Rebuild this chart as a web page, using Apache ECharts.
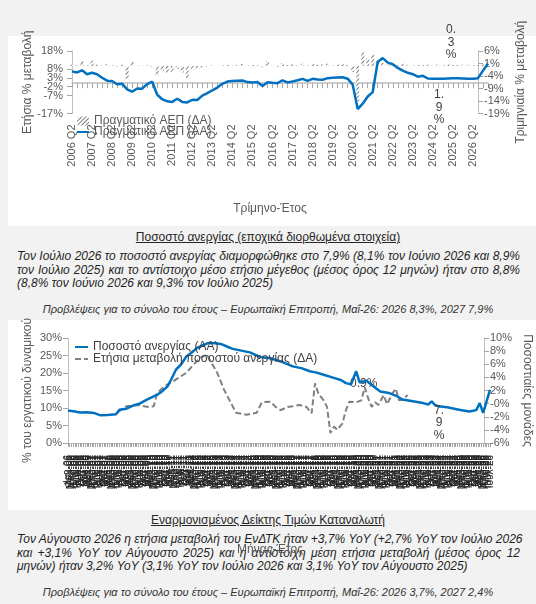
<!DOCTYPE html>
<html lang="el">
<head>
<meta charset="utf-8">
<title>ΑΕΠ και ανεργία</title>
<script src="https://cdn.jsdelivr.net/npm/echarts@6.0.0/dist/echarts.min.js"></script>
<style>
html, body { margin: 0; padding: 0; }
body {
  width: 536px; height: 604px; position: relative; overflow: hidden;
  background: #f2f2f2; color: #1f1f1f;
  font-family: "Liberation Sans", Arial, sans-serif;
}
.box { position: absolute; left: 8px; width: 528px; background: #fff; }
#box1 { top: 36px; height: 190px; }
#box2 { top: 320px; height: 190px; }
.head {
  position: absolute; left: 0; width: 536px; text-align: center;
  font-size: 12px; line-height: 14px; text-decoration: underline; color: #262626;
}
.para {
  position: absolute; left: 17px; width: 503px;
  font-size: 12px; line-height: 13.5px; font-style: italic; color: #1f1f1f;
}
.para div { white-space: nowrap; text-align: justify; text-align-last: justify; }
.para div.last { text-align-last: left; }
.fc {
  position: absolute; left: 0; width: 536px; text-align: center;
  font-size: 11px; line-height: 13px; font-style: italic; color: #333;
}
#chart { position: absolute; left: 0; top: 0; width: 536px; height: 604px; }
</style>
</head>
<body>
<div class="box" id="box1"></div>
<div class="head" style="top:230px">Ποσοστό ανεργίας (εποχικά διορθωμένα στοιχεία)</div>
<div class="para" style="top:250px">
  <div>Τον Ιούλιο 2026 το ποσοστό ανεργίας διαμορφώθηκε στο 7,9% (8,1% τον Ιούνιο 2026 και 8,9%</div>
  <div>τον Ιούλιο 2025) και το αντίστοιχο μέσο ετήσιο μέγεθος (μέσος όρος 12 μηνών) ήταν στο 8,8%</div>
  <div class="last">(8,8% τον Ιούνιο 2026 και 9,3% τον Ιούλιο 2025)</div>
</div>
<div class="fc" style="top:303px">Προβλέψεις για το σύνολο του έτους – Ευρωπαϊκή Επιτροπή, Μαΐ-26: 2026 8,3%, 2027 7,9%</div>
<div class="box" id="box2"></div>
<div class="head" style="top:513px">Εναρμονισμένος Δείκτης Τιμών Καταναλωτή</div>
<div class="para" style="top:533px">
  <div>Τον Αύγουστο 2026 η ετήσια μεταβολή του ΕνΔΤΚ ήταν +3,7% YoY (+2,7% YoY τον Ιούλιο 2026</div>
  <div>και +3,1% YoY τον Αύγουστο 2025) και η αντίστοιχη μέση ετήσια μεταβολή (μέσος όρος 12</div>
  <div class="last">μηνών) ήταν 3,2% YoY (3,1% YoY τον Ιούλιο 2026 και 3,1% YoY τον Αύγουστο 2025)</div>
</div>
<div class="fc" style="top:586px">Προβλέψεις για το σύνολο του έτους – Ευρωπαϊκή Επιτροπή, Μαΐ-26: 2026 3,7%, 2027 2,4%</div>
<div id="chart"></div>

<script>
// ---- ΑΕΠ (τριμηνιαία στοιχεία) ----
const quarterYears = [2006, 2027];      // 2006 Q2 ... 2027 Q1
const quarters = [];
for (let y = quarterYears[0]; y <= quarterYears[1]; y++) {
  for (let q = 1; q <= 4; q++) {
    if ((y === quarterYears[0] && q < 2) || (y === quarterYears[1] && q > 1)) continue;
    quarters.push(y + ' Q' + q);
  }
}

// Πραγματικό ΑΕΠ, τριμηνιαία % μεταβολή (ΔΑ)
const gdpQoq = [
  0.6, 0.4, 1.9, 0.3, 2.2, 0.5, 0.2, 0.8, 0.3, -0.2, 0.5, -5.3, 1.6, 0.2, 0.1, 0.2,
  -0.5, -3.7, -2.0, -2.7, -2.5, -1.2, -2.6, -4.8, -1.6, -1.2, -0.8, -0.5, 0.3, 0.2, 0.3, 0.5,
  0.1, 0.3, 0.8, 0.2, 0.4, 0.2, -0.6, 2.0, 0.4, -0.3, 1.2, 0.3, 0.6, 0.4, 0.9, 0.2,
  0.8, 0.5, 0.6, 0.9, 0.3, 0.7, 0.6, 0.4, -2.4, -14.0, 5.6, 3.0, 4.5, 2.0, 1.2, 0.8,
  1.0, 0.3, 0.9, 0.5, 0.4, 0.6, 0.3, 0.5, 0.2, 0.6, 0.4, 0.8, 0.3, 0.4, 0.5, 0.6,
  0.4, 0.5, 0.6, 0.3
];
// Πραγματικό ΑΕΠ, ετήσια % μεταβολή (ΑΑ)
const gdpYoy = [
  6.6, 6.0, 7.2, 5.0, 5.8, 5.0, 3.0, 1.4, 1.2, -0.6, -0.3, -3.5, -4.8, -3.0, -3.1, -0.5,
  0.8, -6.5, -9.0, -10.2, -10.5, -8.7, -10.5, -10.8, -9.3, -9.4, -7.0, -5.6, -4.0, -2.5, -0.4, 0.9,
  1.2, 1.4, 1.5, 0.6, 0.4, 0.6, -1.6, 0.5, 0.2, 0.0, 1.6, 0.4, 0.9, 1.6, 2.4, 1.3,
  2.4, 2.0, 1.9, 2.8, 3.0, 3.2, 3.3, 2.5, -0.8, -14.5, -11.5, -7.5, -5.0, 12.0, 14.0, 11.5,
  10.6, 8.5, 7.0, 5.8, 5.0, 3.6, 4.1, 2.6, 2.4, 2.5, 2.5, 2.6, 2.7, 2.7, 2.6, 2.5,
  2.5, 2.8, 7.0, 11.0
];
const gdpYoyNote = '1.9%';
const gdpLeftTicks = [-17, -12, -7, -2, 3, 8, 13, 18];
const gdpRightTicks = [-19, -14, -9, -4, 1, 6];

// ---- Ανεργία (μηνιαία στοιχεία) ----
const monthNames = ['Ιαν', 'Φεβ', 'Μαρ', 'Απρ', 'Μαϊ', 'Ιουν', 'Ιουλ', 'Αυγ', 'Σεπ', 'Οκτ', 'Νοε', 'Δεκ'];
const months = [];
for (let y = 2006; y <= 2026; y++) {
  for (let m = 0; m < 12; m++) {
    if (y === 2026 && m > 6) break;
    months.push(monthNames[m] + '-' + String(y).slice(2));
  }
}
// [δείκτης μήνα, %] — Ποσοστό ανεργίας (ΑΑ)
const unempRate = [
  [0, 9.3], [4, 9.0], [7, 8.7], [11, 8.8], [15, 8.6], [19, 7.9], [23, 8.0], [28, 8.2],
  [30, 9.5], [34, 9.8], [38, 10.7], [42, 11.3], [46, 12.4], [52, 13.8], [55, 14.8], [58, 16.2],
  [60, 18.0], [63, 21.0], [66, 22.5], [69, 24.7], [72, 25.8], [75, 27.1], [79, 28.0], [82, 28.6],
  [86, 28.5], [89, 28.3], [93, 27.5], [96, 26.9], [101, 26.4], [106, 25.9], [112, 24.6], [118, 24.2],
  [124, 23.3], [131, 21.9], [136, 21.4], [141, 20.5], [145, 20.1], [149, 19.5], [155, 18.6], [159, 18.0],
  [162, 17.1], [165, 16.8], [168, 20.5], [170, 17.3], [174, 17.8], [178, 16.2], [182, 14.7], [187, 14.3],
  [192, 13.3], [195, 12.4], [201, 11.9], [207, 11.4], [210, 11.0], [212, 11.9], [214, 10.8], [216, 10.5],
  [221, 10.2], [228, 9.5], [234, 9.0], [238, 9.4], [240, 11.4], [242, 8.6], [246, 15.2]
];
// [δείκτης μήνα, π.μ.] — Ετήσια μεταβολή ποσοστού ανεργίας (ΔΑ)
const unempChange = [
  [29, -1.3], [34, -0.4], [40, -0.2], [47, -0.5], [50, -0.4], [52, 1.6], [56, 2.6], [60, 3.2],
  [63, 3.7], [69, 4.7], [73, 5.9], [77, 7.0], [81, 7.5], [83, 6.5], [87, 4.7], [91, 2.1],
  [95, 0.1], [98, -1.4], [104, -1.7], [110, -1.4], [113, 0.2], [118, 0.3], [121, -0.5], [124, -1.0],
  [128, -0.5], [131, -0.4], [135, -0.2], [139, -0.5], [142, -1.5], [144, 3.1], [146, 1.5], [149, 0.5],
  [151, -0.5], [153, -4.5], [155, -3.5], [157, -4.0], [160, -3.0], [162, -1.0], [164, 0.3], [168, 0.2],
  [171, 0.5], [173, 2.5], [175, 0.8], [177, -0.5], [179, 0.2], [181, -0.2], [184, 1.3], [186, -0.1],
  [189, 1.5], [191, 2.3], [193, 0.5], [195, 0.6], [198, 1.3]
];
const unempRateNote = '7.9%';
const unempChangeNote = '0.9%';

const font = '"Liberation Sans", Arial, sans-serif';
const axisGray = '#bfbfbf';
const tickGray = '#a6a6a6';
const labelGray = '#595959';

// "0.3%" -> "0.\n3\n%" (στενή ετικέτα όπως στο πρωτότυπο)
function stacked(txt) {
  return txt.replace('.', '.\n').replace('%', '\n%');
}

const chart = echarts.init(document.getElementById('chart'));

const baseY = {
  splitLine: { show: false },
  axisLine: { show: true, lineStyle: { color: axisGray } },
  axisTick: { show: true, length: 5, lineStyle: { color: tickGray } },
  nameLocation: 'middle',
  nameMoveOverlap: false,
  nameTextStyle: { fontSize: 12, color: labelGray, fontFamily: font }
};
// γραμμή υπομνήματος χωρίς σύμβολο
const noSymbol = { opacity: 0 };

const option = {
  animation: false,
  textStyle: { fontFamily: font },
  grid: [
    { left: 72, top: 51, width: 416, height: 62.5, outerBoundsMode: 'none' },
    { left: 68, top: 338, width: 422, height: 105, outerBoundsMode: 'none' }
  ],
  legend: [
    {
      orient: 'vertical', left: 71, top: 110, itemWidth: 12, itemHeight: 9, itemGap: -1,
      textStyle: { fontSize: 12, color: labelGray, lineHeight: 12 },
      data: ['Πραγματικό ΑΕΠ (ΔΑ)', { name: 'Πραγματικό ΑΕΠ (ΑΑ)', itemStyle: noSymbol }]
    },
    {
      orient: 'vertical', left: 69, top: 336, itemWidth: 13, itemHeight: 8, itemGap: 0,
      textStyle: { fontSize: 12, color: '#404040', lineHeight: 11 },
      data: [
        { name: 'Ποσοστό ανεργίας (ΑΑ)', itemStyle: noSymbol },
        { name: 'Ετήσια μεταβολή ποσοστού ανεργίας (ΔΑ)', itemStyle: noSymbol }
      ]
    }
  ],
  xAxis: [
    {
      type: 'category', gridIndex: 0, data: quarters, boundaryGap: false,
      axisLine: { onZero: true, onZeroAxisIndex: 0, lineStyle: { color: axisGray, width: 1.5 } },
      axisTick: { interval: 0, length: 5, lineStyle: { color: tickGray } },
      axisLabel: { interval: 3, rotate: 90, margin: 11, fontSize: 11, color: labelGray },
      name: 'Τρίμηνο-Έτος', nameLocation: 'middle', nameGap: 89, nameMoveOverlap: false,
      nameTextStyle: { fontSize: 12, color: labelGray, padding: [0, 20, 0, 0] }
    },
    {
      type: 'category', gridIndex: 1, data: months, boundaryGap: false,
      axisLine: { lineStyle: { color: axisGray } },
      axisTick: { interval: 0, length: 4, lineStyle: { color: tickGray } },
      axisLabel: { interval: 0, rotate: 90, margin: 12, fontSize: 10, color: '#262626' },
      name: 'Μήνας-Έτος', nameLocation: 'middle', nameGap: 101, nameMoveOverlap: false,
      nameTextStyle: { fontSize: 12, color: labelGray, padding: [0, 18, 0, 0] }
    }
  ],
  yAxis: [
    Object.assign({}, baseY, {
      type: 'value', gridIndex: 0, position: 'left', min: -17, max: 18,
      axisLabel: {
        customValues: gdpLeftTicks, formatter: '{value}%', fontSize: 11, color: labelGray, margin: 9,
        showMinLabel: true, showMaxLabel: true
      },
      axisTick: { show: true, length: 5, customValues: gdpLeftTicks, lineStyle: { color: tickGray } },
      name: 'Ετήσια % μεταβολή', nameRotate: 90, nameGap: 38
    }),
    Object.assign({}, baseY, {
      type: 'value', gridIndex: 0, position: 'right', offset: -10, min: -19, max: 6,
      axisLabel: {
        customValues: gdpRightTicks, formatter: '{value}%', fontSize: 11, color: labelGray, margin: 6,
        showMinLabel: true, showMaxLabel: true
      },
      axisTick: { show: true, length: 5, customValues: gdpRightTicks, lineStyle: { color: tickGray } },
      name: 'Τριμηνιαία % μεταβολή', nameRotate: 90, nameGap: 37
    }),
    Object.assign({}, baseY, {
      type: 'value', gridIndex: 1, position: 'left', min: 0, max: 30, interval: 5,
      axisLabel: { formatter: '{value}%', fontSize: 11, color: labelGray, margin: 6 },
      name: '% του εργατικού δυναμικού', nameRotate: 90, nameGap: 34
    }),
    Object.assign({}, baseY, {
      type: 'value', gridIndex: 1, position: 'right', offset: -6, min: -6, max: 10, interval: 2,
      axisLabel: {
        fontSize: 11, color: labelGray, margin: 6,
        formatter: v => (v === 0 ? '-0' : v) + '%'
      },
      name: 'Ποσοστιαίες μονάδες', nameRotate: -90, nameGap: 37
    })
  ],
  series: [
    {
      name: 'Πραγματικό ΑΕΠ (ΔΑ)', type: 'bar', xAxisIndex: 0, yAxisIndex: 1,
      barWidth: 3,
      itemStyle: {
        color: '#ffffff',
        decal: {
          symbol: 'rect', symbolSize: 1, color: '#7f7f7f',
          dashArrayX: [1, 0], dashArrayY: [1, 2], rotation: -Math.PI / 4
        }
      },
      data: gdpQoq.map((v, i) => i === gdpQoq.length - 1 ? {
        value: v,
        label: {
          show: true, position: 'inside', offset: [-37, -23],
          fontSize: 12, lineHeight: 12.5, color: '#404040', align: 'center',
          formatter: p => stacked(p.value.toFixed(1) + '%')
        }
      } : v)
    },
    {
      name: 'Πραγματικό ΑΕΠ (ΑΑ)', type: 'line', xAxisIndex: 0, yAxisIndex: 0,
      data: gdpYoy, showSymbol: false, symbol: 'none',
      color: '#0070c0', lineStyle: { width: 2.5, color: '#0070c0' },
      endLabel: {
        show: true, formatter: () => stacked(gdpYoyNote), align: 'center', verticalAlign: 'middle',
        distance: 0, offset: [-49, 44], fontSize: 12, lineHeight: 12.5, color: '#404040'
      }
    },
    {
      name: 'Ποσοστό ανεργίας (ΑΑ)', type: 'line', xAxisIndex: 1, yAxisIndex: 2,
      data: unempRate, showSymbol: false, symbol: 'none',
      color: '#0070c0', lineStyle: { width: 2.5, color: '#0070c0' }, z: 3,
      endLabel: {
        show: true, formatter: () => stacked(unempRateNote), align: 'center', verticalAlign: 'middle',
        distance: 0, offset: [-51, 33], fontSize: 12, lineHeight: 12.5, color: '#404040'
      }
    },
    {
      name: 'Ετήσια μεταβολή ποσοστού ανεργίας (ΔΑ)', type: 'line', xAxisIndex: 1, yAxisIndex: 3,
      data: unempChange, showSymbol: false, symbol: 'none',
      color: '#808080', lineStyle: { width: 2, color: '#808080', type: [6, 3] }, z: 2,
      endLabel: {
        show: true, formatter: () => unempChangeNote, align: 'center', verticalAlign: 'middle',
        distance: 0, offset: [-44, -11], fontSize: 12, color: '#404040'
      }
    }
  ]
};

chart.setOption(option);
</script>
</body>
</html>
